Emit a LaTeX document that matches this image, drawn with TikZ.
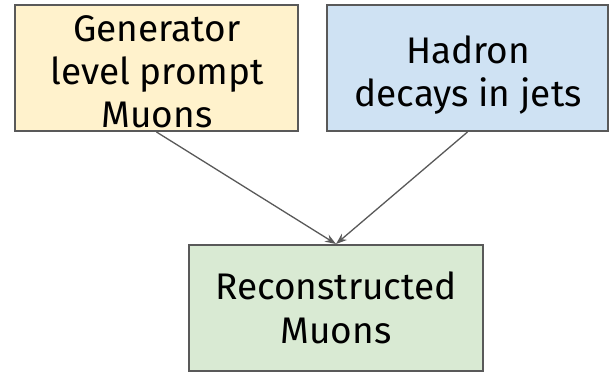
\documentclass[tikz,border=0pt]{standalone}
\usepackage{fontspec}
\setmainfont{Fira Sans}
\usetikzlibrary{arrows.meta}
\definecolor{edgegray}{HTML}{595959}
\definecolor{genfill}{HTML}{FFF2CC}
\definecolor{hadfill}{HTML}{CFE2F3}
\definecolor{recfill}{HTML}{D9EAD3}
\tikzset{
  box/.style={draw=edgegray, line width=2pt, rectangle, inner sep=0pt, minimum height=126pt},
  boxtext/.style={inner sep=0pt, align=center, font=\fontsize{37}{43}\selectfont},
  conn/.style={draw=edgegray, line width=1.3pt, -{Stealth[length=11pt,width=8pt]}}
}
\begin{document}
\begin{tikzpicture}[x=1pt,y=-1pt]
\useasboundingbox (0,0) rectangle (611,372);
\node[box, fill=genfill, minimum width=283pt] (gen) at (156.5,68) {};
\node[box, fill=hadfill, minimum width=281pt] (had) at (467.5,68) {};
\node[box, fill=recfill, minimum width=294pt] (rec) at (336,308) {};
\node[boxtext] (gentext) at (157,72) {Generator\\level prompt\\Muons};
\node[boxtext] (hadtext) at (468,75) {Hadron\\decays in jets};
\node[boxtext, font=\fontsize{37}{44}\selectfont] (rectext) at (336,308) {Reconstructed\\Muons};
\draw[conn] (gen.south) -- (rec.north);
\draw[conn] (had.south) -- (rec.north);
\end{tikzpicture}
\end{document}
